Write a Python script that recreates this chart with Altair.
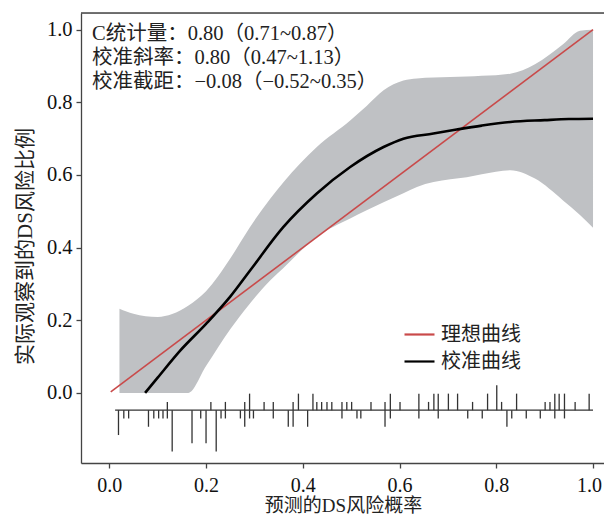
import altair as alt
import pandas as pd

# ---------------- data ----------------
ideal_x = [0.003, 1.0]
ideal_y = [0.003, 1.0]

cal_x = [0.074, 0.10, 0.147, 0.20, 0.25, 0.291, 0.36, 0.429, 0.498, 0.567, 0.608,
         0.67, 0.718, 0.77, 0.829, 0.90, 0.95, 1.00]
cal_y = [0.0, 0.042, 0.117, 0.19, 0.265, 0.337, 0.457, 0.549, 0.622, 0.677, 0.700,
         0.714, 0.725, 0.736, 0.746, 0.751, 0.754, 0.755]

band_x = [0.021, 0.05, 0.10, 0.13, 0.163, 0.20, 0.25, 0.29, 0.333, 0.36, 0.429, 0.498,
          0.532, 0.567, 0.608, 0.636, 0.705, 0.739, 0.77, 0.829, 0.88, 0.938, 0.973, 1.00]
band_hi = [0.232, 0.218, 0.209, 0.217, 0.240, 0.280, 0.370, 0.455, 0.535, 0.580, 0.677, 0.750,
           0.790, 0.833, 0.860, 0.866, 0.870, 0.871, 0.873, 0.879, 0.905, 0.960, 0.997, 1.000]
band_lo = [0.0, 0.0, 0.0, 0.0, 0.0, 0.074, 0.175, 0.245, 0.31, 0.344, 0.43, 0.48,
           0.503, 0.525, 0.55, 0.567, 0.588, 0.594, 0.602, 0.613, 0.59, 0.53, 0.49, 0.455]

rug_extent = [0.012, 1.0]
rug_level = -0.0476
tick_unit = 0.0228

up_x = [0.120, 0.210, 0.240, 0.280, 0.290, 0.320, 0.339, 0.380, 0.391, 0.421, 0.429,
        0.439, 0.450, 0.460, 0.481, 0.491, 0.501, 0.541, 0.570, 0.581, 0.601, 0.640,
        0.660, 0.671, 0.680, 0.701, 0.720, 0.751, 0.782, 0.801, 0.811, 0.842, 0.901,
        0.911, 0.921, 0.930, 0.941, 0.963, 0.992]
up_n = [1, 1, 1, 1, 2, 1, 1, 1, 2, 2, 1,
        1, 1, 1, 1, 1, 1, 1, 1, 2, 1, 2,
        1, 2, 2, 2, 2, 1, 2, 3, 1, 2, 1,
        1, 2, 2, 2, 1, 2]

down_x = [0.019, 0.030, 0.040, 0.081, 0.092, 0.102, 0.111, 0.120, 0.130, 0.171, 0.189,
          0.200, 0.221, 0.231, 0.240, 0.271, 0.280, 0.290, 0.298, 0.339, 0.370, 0.380,
          0.410, 0.481, 0.512, 0.520, 0.570, 0.581, 0.640, 0.680, 0.741, 0.771, 0.822,
          0.832, 0.862, 0.891, 0.921, 0.941]
down_n = [3, 1, 1, 2, 1, 1, 1, 1, 5, 4, 1,
          4, 5, 1, 1, 1, 2, 1, 1, 1, 2, 2,
          2, 1, 1, 1, 2, 1, 1, 1, 1, 1, 2,
          1, 1, 1, 1, 1]

series_names = ["理想曲线", "校准曲线"]
series_colors = ["#c94a4a", "#000000"]

annot_lines = ["C统计量：0.80（0.71~0.87）",
               "校准斜率：0.80（0.47~1.13）",
               "校准截距：−0.08（−0.52~0.35）"]

x_title = "预测的DS风险概率"
y_title = "实际观察到的DS风险比例"
tick_vals = [0.0, 0.2, 0.4, 0.6, 0.8, 1.0]

# ---------------- build ----------------
W, H = 523, 450
SERIF = "Liberation Serif"
MIXED = "Liberation Serif, Noto Sans CJK SC"

xs = alt.Scale(domain=[-0.0585, 1.0227], nice=False, zero=False)
ys = alt.Scale(domain=[-0.193, 1.046], nice=False, zero=False)

xaxis = alt.Axis(values=tick_vals, format=".1f", grid=False, labelFont=SERIF,
                 labelFontSize=20, labelColor="#111", tickColor="#444",
                 domainColor="#444", domainWidth=1.3, tickWidth=1.3, tickSize=5,
                 labelPadding=7,
                 labelOffset={"condition": {"test": "datum.value >= 1", "value": -4},
                              "value": 0},
                 titleFont=MIXED, titleFontSize=19,
                 titleFontWeight="normal", titleColor="#222", titleX=262,
                 titleY=42, titleBaseline="middle", titleAlign="center")
yaxis = alt.Axis(values=tick_vals, format=".1f", grid=False, labelFont=SERIF,
                 labelFontSize=20.5, labelColor="#111", tickColor="#444",
                 domainColor="#444", domainWidth=1.3, tickWidth=1.3, tickSize=5,
                 labelPadding=4, titleFont=MIXED, titleFontSize=21,
                 titleFontWeight="normal", titleColor="#222", titleX=-56,
                 titleY=233, titleBaseline="middle", titleAlign="center",
                 titleAngle=-90)


def X(field="x"):
    return alt.X(f"{field}:Q", scale=xs, axis=xaxis, title=x_title)


def Y(field="y"):
    return alt.Y(f"{field}:Q", scale=ys, axis=yaxis, title=y_title)


cscale = alt.Scale(domain=series_names, range=series_colors)
legend = alt.Legend(orient="none", legendX=322, legendY=305, title=None,
                    symbolType="stroke", symbolSize=900, symbolStrokeWidth=2.2,
                    labelFont="Noto Sans CJK SC", labelFontSize=20,
                    labelColor="#222", labelOffset=5, rowPadding=-1, padding=0)
COLOR = alt.Color("series:N", scale=cscale, legend=legend)

band_df = pd.DataFrame({"x": band_x, "y": band_lo, "y2": band_hi})
band = alt.Chart(band_df).mark_area(color="#bfc1c4", opacity=1,
                                    interpolate="monotone").encode(
    x=X(), y=Y(), y2="y2:Q")

ideal_df = pd.DataFrame({"x": ideal_x, "y": ideal_y, "series": series_names[0]})
ideal = alt.Chart(ideal_df).mark_line(strokeWidth=1.6).encode(
    x=X(), y=Y(), color=COLOR)

cal_df = pd.DataFrame({"x": cal_x, "y": cal_y, "series": series_names[1]})
cal = alt.Chart(cal_df).mark_line(strokeWidth=2.6, interpolate="monotone").encode(
    x=X(), y=Y(), color=COLOR)

base_df = pd.DataFrame({"x": [rug_extent[0]], "x2": [rug_extent[1]], "y": [rug_level]})
rug_base = alt.Chart(base_df).mark_rule(color="#333", strokeWidth=1.3).encode(
    x=X(), x2="x2:Q", y=Y())

ticks = ([(a, rug_level, rug_level + n * tick_unit) for a, n in zip(up_x, up_n)] +
         [(a, rug_level, rug_level - n * tick_unit) for a, n in zip(down_x, down_n)])
tick_df = pd.DataFrame(ticks, columns=["x", "y", "y2"])
rug = alt.Chart(tick_df).mark_rule(color="#333", strokeWidth=1.3).encode(
    x=X(), y=Y(), y2="y2:Q")

annot = alt.Chart(pd.DataFrame({"k": [0]})).mark_text(
    align="left", baseline="top", font=MIXED, fontSize=20.5, lineHeight=24,
    color="#222").encode(x=alt.value(11), y=alt.value(11), text=alt.value(annot_lines))

top_border = alt.Chart(pd.DataFrame({"k": [0]})).mark_rule(
    color="#444", strokeWidth=1.3).encode(
    x=alt.value(0), x2=alt.value(W), y=alt.value(0))

chart = alt.layer(band, ideal, cal, rug_base, rug, annot, top_border).properties(
    width=W, height=H,
    autosize=alt.AutoSizeParams(type="none"),
    padding={"left": 73, "top": 5, "right": 0, "bottom": 51},
).configure_view(stroke=None).configure(background="white")

chart.save("out.html", embed_options={"renderer": "svg", "actions": False})
